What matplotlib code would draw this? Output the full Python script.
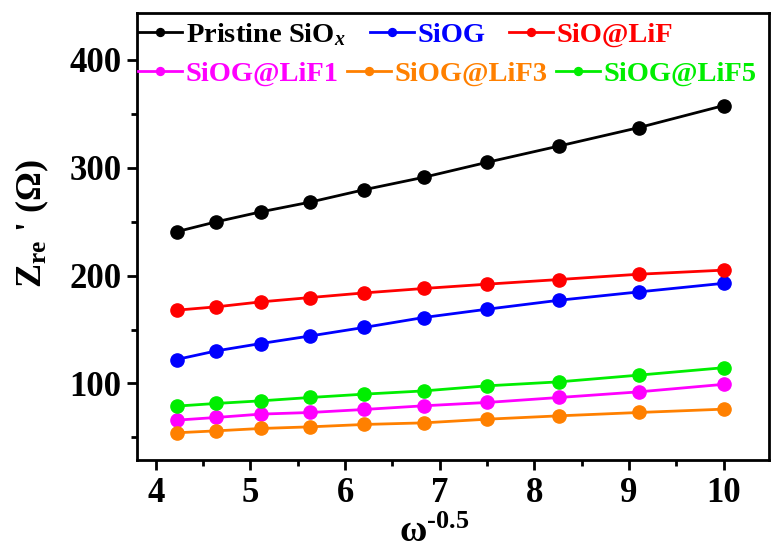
import matplotlib
matplotlib.use("Agg")
import matplotlib.pyplot as plt
from matplotlib.ticker import MultipleLocator

plt.rcParams['font.family'] = ['Liberation Serif', 'DejaVu Serif']
plt.rcParams['font.weight'] = 'bold'
plt.rcParams['mathtext.fontset'] = 'custom'
plt.rcParams['mathtext.rm'] = 'Liberation Serif:bold'
plt.rcParams['mathtext.it'] = 'Liberation Serif:italic:bold'
plt.rcParams['mathtext.bf'] = 'Liberation Serif:bold'

x = [4.22, 4.64, 5.11, 5.63, 6.20, 6.83, 7.50, 8.26, 9.10, 10.0]
pristine = [240.6, 249.8, 259.0, 268.0, 279.5, 291.0, 304.9, 320.0, 337.0, 357.5]
siog = [122.2, 130.2, 137.0, 144.0, 151.9, 161.1, 168.8, 177.1, 184.8, 192.8]
sio_lif = [167.9, 171.0, 175.6, 179.6, 183.9, 188.0, 192.0, 196.3, 201.2, 205.0]
siog_lif1 = [66.0, 68.5, 71.6, 73.1, 75.9, 79.3, 82.4, 87.0, 92.2, 99.2]
siog_lif3 = [54.3, 56.1, 58.3, 59.8, 62.0, 63.5, 66.9, 70.0, 73.1, 76.2]
siog_lif5 = [79.0, 81.5, 83.9, 87.0, 90.1, 93.1, 97.8, 101.5, 107.7, 114.6]

labels = ['Pristine SiO$_{x}$', 'SiOG', 'SiO@LiF', 'SiOG@LiF1', 'SiOG@LiF3', 'SiOG@LiF5']
colors = ['#000000', '#0000ff', '#ff0000', '#ff00ff', '#ff8000', '#00ee00']
series = [pristine, siog, sio_lif, siog_lif1, siog_lif3, siog_lif5]

fig = plt.figure(figsize=(7.73, 5.53), dpi=100)
ax = fig.add_axes([0.177, 0.168, 0.818, 0.808])

handles = []
for y, c, lab in zip(series, colors, labels):
    h, = ax.plot(x, y, '-o', color=c, lw=2.0, ms=9.5, mec=c, mfc=c, label=lab)
    handles.append(h)

ax.set_xlim(3.80, 10.48)
ax.set_ylim(29, 443)
ax.xaxis.set_major_locator(MultipleLocator(1))
ax.xaxis.set_minor_locator(MultipleLocator(0.5))
ax.yaxis.set_major_locator(MultipleLocator(100))
ax.yaxis.set_minor_locator(MultipleLocator(50))

for s in ax.spines.values():
    s.set_linewidth(2.0)
ax.tick_params(which='major', direction='out', length=7, width=2, labelsize=25, pad=4)
ax.tick_params(which='minor', direction='out', length=4, width=2)
ax.tick_params(axis='x', which='major', pad=5)
for lbl in ax.get_xticklabels() + ax.get_yticklabels():
    lbl.set_fontweight('bold')

ax.set_xlabel('ω$^{\\text{-0.5}}$', fontsize=27, fontweight='bold')
ax.xaxis.set_label_coords(0.47, -0.122)
ax.set_ylabel("$\\mathrm{Z_{re}}$ ' (Ω)", fontsize=26, fontweight='bold')
ax.yaxis.set_label_coords(-0.135, 0.53)

def make_legend(hs, cols, ypos, colsp):
    leg = ax.legend(handles=hs, loc='center left', bbox_to_anchor=(0.002, ypos),
                    frameon=False, ncol=3, handlelength=1.55, handletextpad=0.12,
                    columnspacing=colsp, markerscale=0.6, borderaxespad=0.0,
                    borderpad=0.0, prop={'weight': 'bold', 'size': 20.5})
    for t, c in zip(leg.get_texts(), cols):
        t.set_color(c)
    return leg

leg1 = make_legend(handles[:3], colors[:3], 0.953, 0.85)
ax.add_artist(leg1)
leg2 = make_legend(handles[3:], colors[3:], 0.8635, 0.3)

fig.savefig('out.png', dpi=100)
